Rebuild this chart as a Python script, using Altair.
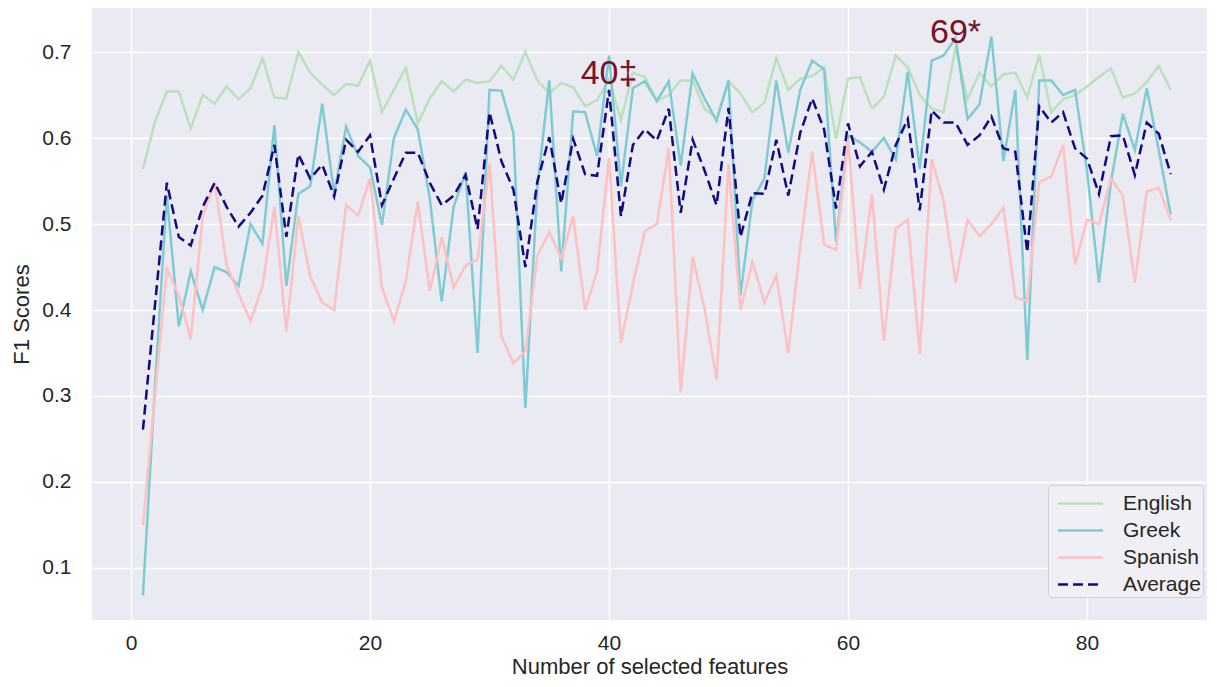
import altair as alt
import pandas as pd

features = list(range(1, 88))

english = [0.564, 0.619, 0.654, 0.654, 0.611, 0.650, 0.640, 0.660, 0.645, 0.658,
           0.693, 0.647, 0.646, 0.700, 0.676, 0.662, 0.650, 0.663, 0.661, 0.690,
           0.630, 0.656, 0.682, 0.617, 0.646, 0.666, 0.654, 0.668, 0.664, 0.666,
           0.684, 0.668, 0.700, 0.667, 0.652, 0.664, 0.659, 0.637, 0.644, 0.668,
           0.621, 0.676, 0.671, 0.643, 0.650, 0.667, 0.667, 0.634, 0.623, 0.666,
           0.652, 0.630, 0.641, 0.693, 0.656, 0.669, 0.672, 0.682, 0.599, 0.669,
           0.671, 0.634, 0.648, 0.696, 0.682, 0.650, 0.634, 0.630, 0.706, 0.645,
           0.676, 0.660, 0.674, 0.676, 0.647, 0.697, 0.630, 0.645, 0.650, 0.660,
           0.671, 0.681, 0.647, 0.652, 0.665, 0.684, 0.656]

greek = [0.068, 0.310, 0.533, 0.381, 0.445, 0.400, 0.450, 0.444, 0.428, 0.500,
         0.477, 0.615, 0.428, 0.535, 0.544, 0.640, 0.535, 0.613, 0.579, 0.566,
         0.499, 0.600, 0.633, 0.610, 0.530, 0.410, 0.520, 0.560, 0.350, 0.656,
         0.655, 0.606, 0.286, 0.542, 0.667, 0.445, 0.631, 0.630, 0.579, 0.696,
         0.544, 0.658, 0.666, 0.643, 0.666, 0.568, 0.675, 0.646, 0.620, 0.667,
         0.417, 0.527, 0.553, 0.667, 0.583, 0.656, 0.690, 0.680, 0.479, 0.603,
         0.595, 0.584, 0.600, 0.575, 0.677, 0.564, 0.690, 0.696, 0.716, 0.622,
         0.639, 0.718, 0.573, 0.656, 0.342, 0.667, 0.667, 0.650, 0.656, 0.562,
         0.432, 0.549, 0.628, 0.586, 0.658, 0.586, 0.511]

spanish = [0.150, 0.300, 0.448, 0.417, 0.366, 0.509, 0.549, 0.452, 0.419, 0.387,
           0.428, 0.520, 0.375, 0.509, 0.439, 0.409, 0.400, 0.522, 0.510, 0.553,
           0.426, 0.387, 0.434, 0.526, 0.422, 0.485, 0.426, 0.452, 0.459, 0.570,
           0.369, 0.338, 0.352, 0.463, 0.491, 0.460, 0.509, 0.400, 0.445, 0.577,
           0.362, 0.430, 0.492, 0.500, 0.588, 0.304, 0.462, 0.401, 0.319, 0.570,
           0.400, 0.456, 0.409, 0.440, 0.350, 0.474, 0.584, 0.476, 0.470, 0.599,
           0.425, 0.535, 0.364, 0.495, 0.505, 0.349, 0.575, 0.527, 0.432, 0.505,
           0.486, 0.500, 0.519, 0.415, 0.410, 0.549, 0.555, 0.592, 0.453, 0.505,
           0.500, 0.553, 0.533, 0.432, 0.538, 0.542, 0.505]

average = [0.261, 0.405, 0.548, 0.485, 0.475, 0.520, 0.548, 0.520, 0.497, 0.513,
           0.533, 0.592, 0.485, 0.581, 0.553, 0.569, 0.532, 0.598, 0.584, 0.603,
           0.522, 0.553, 0.583, 0.583, 0.548, 0.522, 0.533, 0.557, 0.494, 0.630,
           0.573, 0.540, 0.450, 0.549, 0.601, 0.524, 0.599, 0.558, 0.556, 0.656,
           0.509, 0.592, 0.610, 0.597, 0.634, 0.513, 0.598, 0.562, 0.522, 0.635,
           0.485, 0.536, 0.535, 0.598, 0.533, 0.606, 0.646, 0.610, 0.518, 0.617,
           0.567, 0.584, 0.540, 0.592, 0.622, 0.516, 0.632, 0.618, 0.618, 0.592,
           0.603, 0.625, 0.588, 0.584, 0.467, 0.637, 0.618, 0.630, 0.588, 0.576,
           0.535, 0.602, 0.603, 0.557, 0.618, 0.605, 0.558]

series_names = ["English", "Greek", "Spanish", "Average"]
series_colors = ["#b9e2ba", "#7fcbd3", "#ffc0c0", "#140a80"]
series_dashes = [[1, 0], [1, 0], [1, 0], [10, 5]]

annot_x = [40, 69]
annot_y = [0.663, 0.7105]
annot_text = ["40\u2021", "69*"]

x_ticks = [0, 20, 40, 60, 80]
y_ticks = [0.1, 0.2, 0.3, 0.4, 0.5, 0.6, 0.7]

rows = []
for name, vals in zip(series_names, [english, greek, spanish, average]):
    for f, v in zip(features, vals):
        rows.append({"features": f, "score": v, "lang": name})
df = pd.DataFrame(rows)
ann = pd.DataFrame({"features": annot_x, "score": annot_y, "t": annot_text})

xscale = alt.Scale(domain=[-3.264, 90.04], nice=False, zero=False)
yscale = alt.Scale(domain=[0.0395, 0.7512], nice=False, zero=False)

legend = alt.Legend(
    title=None, orient="none", legendX=956, legendY=477,
    padding=2, symbolOffset=14, labelOffset=26, labelFontSize=21,
    labelColor="#262626", symbolType="M-1.5,0L1.5,0", symbolSize=900,
    symbolStrokeWidth=2.5, rowPadding=0, fillColor="#efeff5",
    strokeColor="#cfcfd6", cornerRadius=4,
)

lines = alt.Chart(df).mark_line(strokeWidth=2.5).encode(
    x=alt.X("features:Q", scale=xscale,
            axis=alt.Axis(values=x_ticks, format="d", title="Number of selected features",
                          grid=True, gridColor="white", gridWidth=1.5, domain=False,
                          ticks=False, labelPadding=12, labelFontSize=21,
                          titleFontSize=22, titlePadding=3, titleFontWeight="normal",
                          labelColor="#262626", titleColor="#262626")),
    y=alt.Y("score:Q", scale=yscale,
            axis=alt.Axis(values=y_ticks, format=".1f", title="F1 Scores",
                          grid=True, gridColor="white", gridWidth=1.5, domain=False,
                          ticks=False, labelPadding=21, labelFontSize=21,
                          titleFontSize=22, titlePadding=8, titleFontWeight="normal",
                          labelColor="#262626", titleColor="#262626")),
    color=alt.Color("lang:N", scale=alt.Scale(domain=series_names, range=series_colors),
                    legend=legend),
    strokeDash=alt.StrokeDash("lang:N", scale=alt.Scale(domain=series_names, range=series_dashes),
                              legend=legend),
    order=alt.Order("features:Q"),
)

texts = alt.Chart(ann).mark_text(align="center", baseline="alphabetic", fontSize=34,
                                 color="#7b1128").encode(
    x=alt.X("features:Q", scale=xscale),
    y=alt.Y("score:Q", scale=yscale),
    text="t:N",
)

chart = alt.layer(lines, texts).properties(
    width=1115, height=612,
    padding={"left": 84, "top": 0, "right": 2, "bottom": 59},
    autosize=alt.AutoSizeParams(type="none"),
).configure(font="Liberation Sans").configure_view(fill="#eaeaf2", stroke=None)

chart.save("out.html", embed_options={"renderer": "svg", "actions": False})
